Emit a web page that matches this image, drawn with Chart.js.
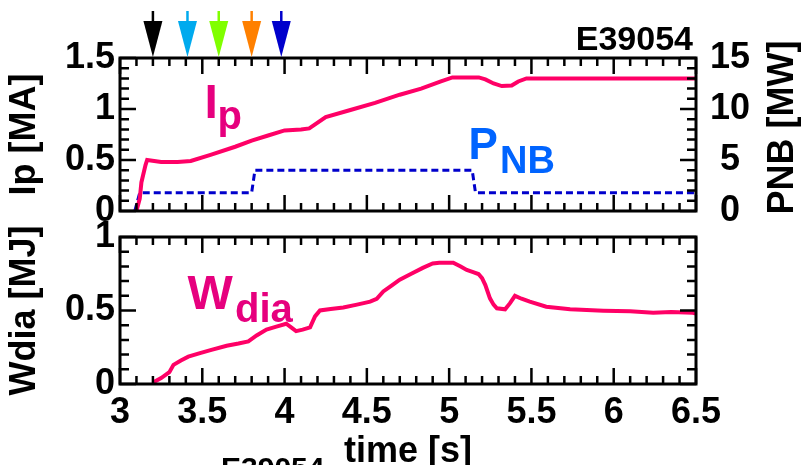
<!DOCTYPE html>
<html>
<head>
<meta charset="utf-8">
<script src="https://cdn.jsdelivr.net/npm/chart.js@4.4.1/dist/chart.umd.min.js"></script>
<style>
  html, body { margin: 0; padding: 0; background: #fff; }
  #wrap { position: relative; width: 805px; height: 465px; overflow: hidden; }
  #wrap canvas { position: absolute; left: 0; top: 0; }
</style>
</head>
<body>
<div id="wrap">
  <canvas id="topChart" width="805" height="465"></canvas>
  <canvas id="bottomChart" width="805" height="465"></canvas>
</div>
<script>
// plasma current Ip [MA]
const ipTime = [3.10, 3.12, 3.13, 3.155, 3.165, 3.25, 3.35, 3.43, 3.55, 3.70, 3.80, 3.90, 4.00, 4.10, 4.15, 4.25, 4.40, 4.55, 4.70, 4.83, 4.95, 5.02, 5.10, 5.18, 5.22, 5.27, 5.32, 5.38, 5.42, 5.47, 5.60, 6.00, 6.50];
const ipVal  = [0.00, 0.12, 0.28, 0.45, 0.50, 0.48, 0.48, 0.49, 0.55, 0.63, 0.69, 0.74, 0.79, 0.80, 0.81, 0.92, 0.99, 1.06, 1.14, 1.20, 1.27, 1.31, 1.31, 1.31, 1.29, 1.25, 1.225, 1.23, 1.27, 1.30, 1.30, 1.30, 1.30];

// NBI power [MW]
const pnbTime = [3.09, 3.12, 3.80, 3.82, 5.14, 5.16, 6.50];
const pnbVal  = [0.0, 1.8, 1.8, 4.0, 4.0, 1.8, 1.8];

// stored energy Wdia [MJ]
const wTime = [3.20, 3.25, 3.30, 3.325, 3.37, 3.415, 3.486, 3.55, 3.648, 3.72, 3.78, 3.83, 3.89, 3.95, 4.01, 4.04, 4.07, 4.11, 4.155, 4.185, 4.215, 4.28, 4.357, 4.44, 4.52, 4.56, 4.60, 4.65, 4.70, 4.77, 4.84, 4.90, 4.94, 5.025, 5.07, 5.107, 5.15, 5.178, 5.20, 5.22, 5.248, 5.27, 5.29, 5.34, 5.37, 5.40, 5.44, 5.49, 5.59, 5.735, 5.937, 6.10, 6.24, 6.35, 6.48, 6.50];
const wVal  = [0.01, 0.04, 0.08, 0.13, 0.16, 0.186, 0.21, 0.23, 0.26, 0.275, 0.29, 0.33, 0.37, 0.39, 0.41, 0.385, 0.36, 0.37, 0.385, 0.46, 0.50, 0.51, 0.52, 0.54, 0.56, 0.58, 0.63, 0.67, 0.71, 0.75, 0.79, 0.82, 0.825, 0.825, 0.80, 0.776, 0.76, 0.748, 0.72, 0.673, 0.583, 0.54, 0.515, 0.508, 0.55, 0.60, 0.58, 0.56, 0.526, 0.508, 0.499, 0.495, 0.485, 0.49, 0.485, 0.48];

// time markers above the top panel
const arrowTimes  = [3.2, 3.41, 3.6, 3.8, 3.98];
const arrowColors = ['#000000', '#00aaee', '#80ff00', '#ff8000', '#0000cc'];

const shotLabel = 'E39054';
const FONT = 'Liberation Sans, Arial, sans-serif';
const toXY = (xs, ys) => xs.map((t, i) => ({x: t, y: ys[i]}));
const fmt = v => String(+(+v).toFixed(2));

// frame + inward ticks on every side
const frameTicks = {
  id: 'frameTicks',
  afterDatasetsDraw(chart, args, opts) {
    const {ctx, chartArea: a, scales} = chart;
    ctx.save();
    ctx.strokeStyle = '#000';
    ctx.lineWidth = 2.5;
    ctx.beginPath();
    const xs = scales.x;
    for (let i = 0; i <= 35; i++) {
      const px = xs.getPixelForValue(xs.min + i * 0.1);
      const len = i % 5 === 0 ? 16 : 8;
      ctx.moveTo(px, a.bottom); ctx.lineTo(px, a.bottom - len);
      ctx.moveTo(px, a.top); ctx.lineTo(px, a.top + len);
    }
    const sideTicks = (spec, side) => {
      const s = scales[spec.id];
      const n = Math.round((s.max - s.min) / spec.step);
      for (let i = 0; i <= n; i++) {
        const py = s.getPixelForValue(s.min + i * spec.step);
        const len = i % spec.major === 0 ? 16 : 9;
        if (side === 'left') { ctx.moveTo(a.left, py); ctx.lineTo(a.left + len, py); }
        else { ctx.moveTo(a.right, py); ctx.lineTo(a.right - len, py); }
      }
    };
    sideTicks(opts.left, 'left');
    sideTicks(opts.right, 'right');
    ctx.stroke();
    ctx.lineWidth = 3;
    ctx.strokeRect(a.left, a.top, a.right - a.left, a.bottom - a.top);
    ctx.restore();
  }
};

// coloured arrows + labels for the top panel
const topDecor = {
  id: 'topDecor',
  afterDraw(chart) {
    const {ctx, scales, chartArea: a} = chart;
    ctx.save();
    arrowTimes.forEach((t, i) => {
      const px = scales.x.getPixelForValue(t);
      ctx.strokeStyle = arrowColors[i];
      ctx.fillStyle = arrowColors[i];
      ctx.lineWidth = 2.5;
      ctx.beginPath(); ctx.moveTo(px, 11); ctx.lineTo(px, 24); ctx.stroke();
      ctx.beginPath();
      ctx.moveTo(px - 9.5, 21); ctx.lineTo(px + 9.5, 21); ctx.lineTo(px, 57);
      ctx.closePath(); ctx.fill();
    });
    ctx.fillStyle = '#000';
    ctx.textAlign = 'right';
    ctx.font = 'bold 34px ' + FONT;
    ctx.fillText(shotLabel, 693, 50);

    // right axis title, reading bottom to top
    ctx.save();
    ctx.translate(783, (a.top + a.bottom) / 2 - 7);
    ctx.rotate(-Math.PI / 2);
    ctx.textAlign = 'center';
    ctx.textBaseline = 'middle';
    ctx.font = 'bold 36px ' + FONT;
    ctx.fillText('PNB [MW]', 0, 0);
    ctx.restore();

    ctx.textAlign = 'left';
    ctx.fillStyle = '#e6007e';
    ctx.font = 'bold 48px ' + FONT;
    ctx.fillText('I', 204.5, 118);
    ctx.font = 'bold 40px ' + FONT;
    ctx.fillText('p', 217.5, 129);

    ctx.fillStyle = '#0064ff';
    ctx.font = 'bold 44px ' + FONT;
    ctx.fillText('P', 468.5, 158.5);
    ctx.font = 'bold 38px ' + FONT;
    ctx.fillText('NB', 500, 173);
    ctx.restore();
  }
};

const bottomDecor = {
  id: 'bottomDecor',
  afterDraw(chart) {
    const {ctx} = chart;
    ctx.save();
    ctx.textAlign = 'left';
    ctx.fillStyle = '#e6007e';
    ctx.font = 'bold 48px ' + FONT;
    ctx.fillText('W', 187.5, 308.5);
    ctx.font = 'bold 40px ' + FONT;
    ctx.fillText('dia', 235, 322);
    ctx.fillStyle = '#000';
    ctx.font = 'bold 30px ' + FONT;
    ctx.fillText(shotLabel, 221, 478);
    ctx.restore();
  }
};

const tickFont = {family: FONT, size: 36, weight: 'bold'};
const titleFont = {family: FONT, size: 36, weight: 'bold', lineHeight: 1};

new Chart(document.getElementById('topChart'), {
  type: 'line',
  data: {
    datasets: [{
      label: 'Ip',
      data: toXY(ipTime, ipVal),
      yAxisID: 'y',
      borderColor: '#ff0066',
      borderWidth: 4,
      pointRadius: 0,
      tension: 0
    }, {
      label: 'PNB',
      data: toXY(pnbTime, pnbVal),
      yAxisID: 'y1',
      borderColor: '#0000cc',
      borderWidth: 3,
      borderDash: [7, 4],
      pointRadius: 0,
      tension: 0
    }]
  },
  options: {
    responsive: false,
    animation: false,
    layout: {padding: {top: 58, bottom: 254, left: 0, right: 0}},
    plugins: {
      legend: {display: false},
      tooltip: {enabled: false},
      frameTicks: {left: {id: 'y', step: 0.1, major: 5}, right: {id: 'y1', step: 1, major: 5}}
    },
    scales: {
      x: {type: 'linear', min: 3, max: 6.5, display: false},
      y: {
        position: 'left', min: 0, max: 1.5,
        afterFit: s => { s.width = 120; },
        grid: {display: false, drawTicks: false},
        border: {display: false},
        ticks: {stepSize: 0.5, color: '#000', font: tickFont, padding: 5, callback: fmt},
        title: {display: true, text: 'Ip [MA]', color: '#000', font: titleFont, padding: {top: 7, bottom: 0}}
      },
      y1: {
        position: 'right', min: 0, max: 15,
        afterFit: s => { s.width = 109; },
        grid: {display: false, drawTicks: false},
        border: {display: false},
        ticks: {stepSize: 5, color: '#000', font: tickFont, padding: 14, crossAlign: 'center', callback: fmt},
        title: {display: false}
      }
    }
  },
  plugins: [frameTicks, topDecor]
});

new Chart(document.getElementById('bottomChart'), {
  type: 'line',
  data: {
    datasets: [{
      label: 'Wdia',
      data: toXY(wTime, wVal),
      borderColor: '#ff0066',
      borderWidth: 4,
      pointRadius: 0,
      tension: 0
    }]
  },
  options: {
    responsive: false,
    animation: false,
    layout: {padding: {top: 237, bottom: 1, left: 0, right: 109}},
    plugins: {
      legend: {display: false},
      tooltip: {enabled: false},
      frameTicks: {left: {id: 'y', step: 0.1, major: 5}, right: {id: 'y', step: 0.1, major: 5}}
    },
    scales: {
      x: {
        type: 'linear', min: 3, max: 6.5,
        afterFit: s => { s.height = 80; },
        grid: {display: false, drawTicks: false},
        border: {display: false},
        ticks: {stepSize: 0.5, color: '#000', font: tickFont, padding: 7, maxRotation: 0, callback: fmt},
        title: {display: true, text: 'time [s]', color: '#000', font: titleFont, padding: {top: 0, bottom: -6}}
      },
      y: {
        position: 'left', min: 0, max: 1,
        afterFit: s => { s.width = 120; },
        grid: {display: false, drawTicks: false},
        border: {display: false},
        ticks: {stepSize: 0.5, color: '#000', font: tickFont, padding: 5, callback: fmt},
        title: {display: true, text: 'Wdia [MJ]', color: '#000', font: titleFont, padding: {top: 7, bottom: 0}}
      }
    }
  },
  plugins: [frameTicks, bottomDecor]
});
</script>
</body>
</html>
